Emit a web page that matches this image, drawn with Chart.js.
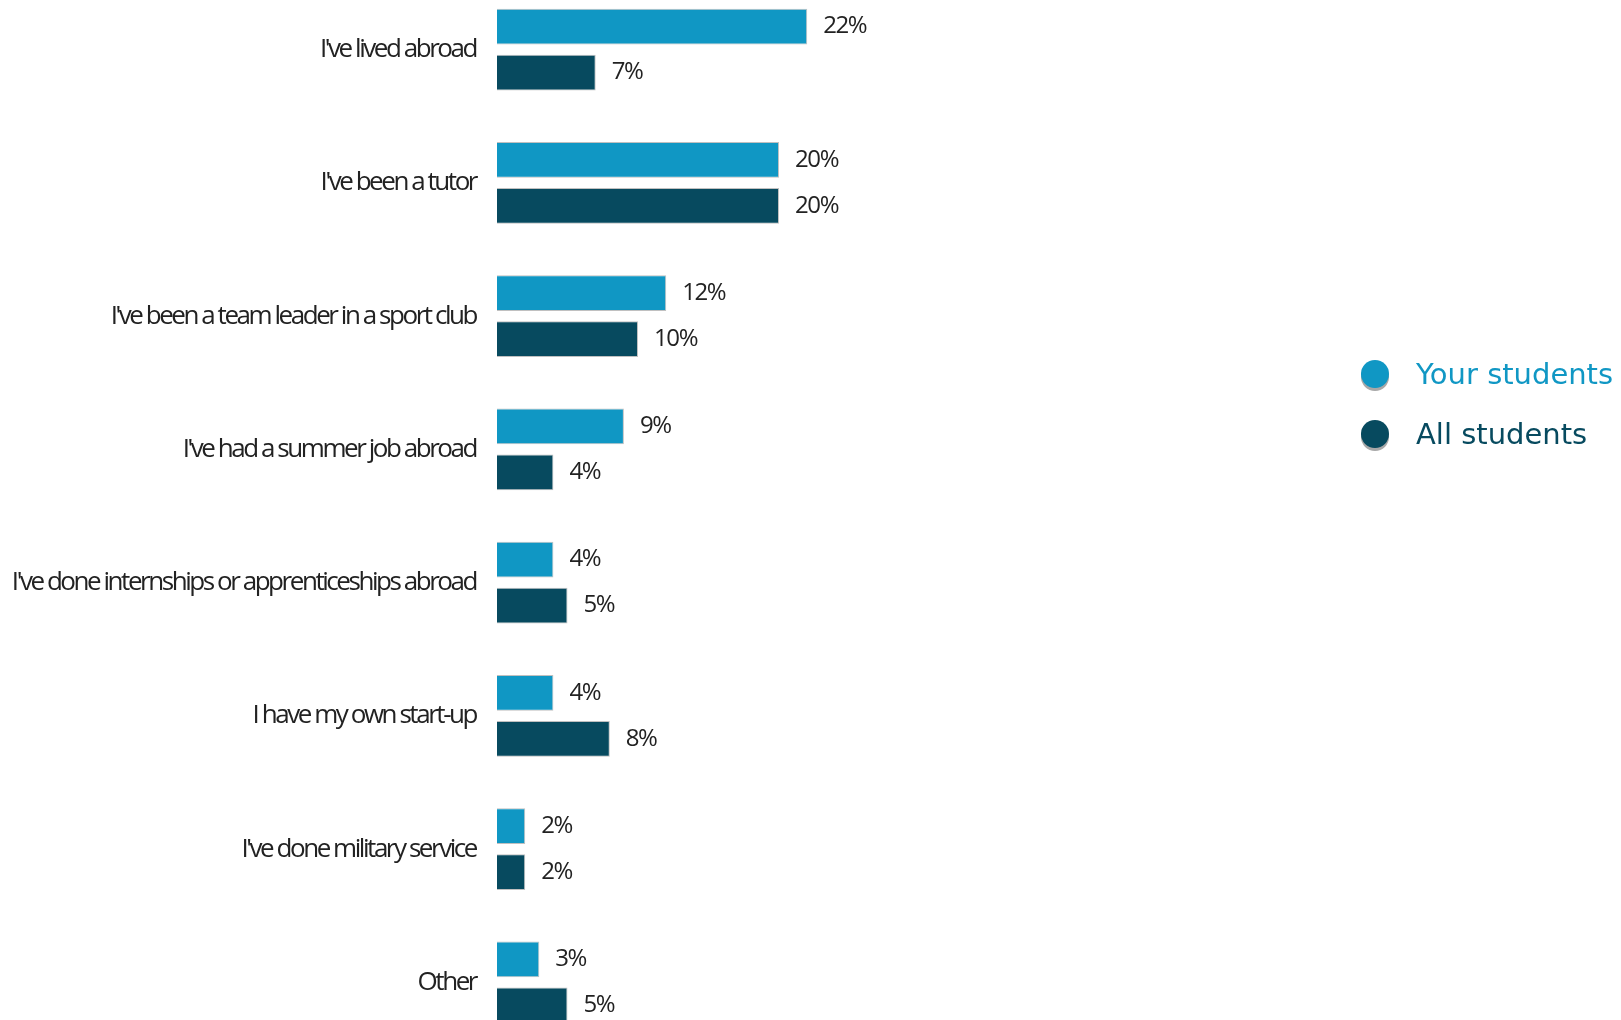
<!DOCTYPE html>
<html lang="en">
<head>
    <meta charset="UTF-8">
    <title>Student experience</title>
    <script src="https://cdn.jsdelivr.net/npm/chart.js"></script>
    <style>
        body {
            margin: 0;
            background: #ffffff;
            overflow: hidden;
        }
        #experienceChart {
            position: absolute;
            left: 0;
            top: -17px;
        }
    </style>
</head>
<body>
    <canvas id="experienceChart" width="1621" height="1066"></canvas>

    <script>
        const categories = [
            "I've lived abroad",
            "I've been a tutor",
            "I've been a team leader in a sport club",
            "I've had a summer job abroad",
            "I've done internships or apprenticeships abroad",
            "I have my own start-up",
            "I've done military service",
            "Other"
        ];
        const yourStudents = [22, 20, 12, 9, 4, 4, 2, 3];
        const allStudents = [7, 20, 10, 4, 5, 8, 2, 5];
        const seriesNames = ["Your students", "All students"];
        const seriesColors = ["#1097c4", "#074a5f"];

        // value labels just past the end of each bar
        const valueLabels = {
            id: "valueLabels",
            afterDatasetsDraw(chart) {
                const ctx = chart.ctx;
                ctx.save();
                ctx.font = "24px 'Open Sans'";
                ctx.letterSpacing = "-1.4px";
                ctx.fillStyle = "#222";
                ctx.textAlign = "left";
                ctx.textBaseline = "middle";
                chart.data.datasets.forEach((ds, i) => {
                    chart.getDatasetMeta(i).data.forEach((bar, j) => {
                        ctx.fillText(ds.data[j] + "%", bar.x + 16, bar.y);
                    });
                });
                ctx.restore();
            }
        };

        // round markers with a soft grey drop under them
        const sideLegend = {
            id: "sideLegend",
            afterDraw(chart) {
                const ctx = chart.ctx;
                ctx.save();
                ctx.letterSpacing = "0px";
                ctx.font = "29px 'DejaVu Sans'";
                ctx.textBaseline = "middle";
                ctx.textAlign = "left";
                chart.data.datasets.forEach((ds, i) => {
                    const y = 391 + i * 60;
                    ctx.fillStyle = "#a8a8a8";
                    ctx.beginPath();
                    ctx.arc(1375, y + 3, 14, 0, Math.PI * 2);
                    ctx.fill();
                    ctx.fillStyle = ds.backgroundColor;
                    ctx.beginPath();
                    ctx.arc(1375, y, 14, 0, Math.PI * 2);
                    ctx.fill();
                    ctx.fillText(ds.label, 1416, y + 2);
                });
                ctx.restore();
            }
        };

        // tighter letters for the category names
        const tightText = {
            id: "tightText",
            beforeDraw(chart) { chart.ctx.letterSpacing = "-2.45px"; },
            afterDraw(chart) { chart.ctx.letterSpacing = "0px"; }
        };

        new Chart(document.getElementById("experienceChart"), {
            type: "bar",
            data: {
                labels: categories,
                datasets: [
                    { label: seriesNames[0], data: yourStudents, backgroundColor: seriesColors[0] },
                    { label: seriesNames[1], data: allStudents, backgroundColor: seriesColors[1] }
                ]
            },
            options: {
                indexAxis: "y",
                responsive: false,
                animation: false,
                layout: { padding: { right: 278 } },
                datasets: {
                    bar: {
                        categoryPercentage: 0.69,
                        barPercentage: 0.78,
                        borderWidth: 1,
                        borderColor: "rgba(140,140,140,0.55)"
                    }
                },
                plugins: {
                    legend: { display: false },
                    tooltip: { enabled: false }
                },
                scales: {
                    x: { display: false, min: 0, max: 60 },
                    y: {
                        grid: { display: false },
                        border: { display: false },
                        ticks: {
                            padding: 13,
                            color: "#222",
                            font: { family: "'Open Sans'", size: 26 }
                        },
                        afterFit(scale) {
                            scale.width = 497;
                            // let the bands use the full canvas height
                            scale.paddingTop = 0;
                            scale.paddingBottom = 0;
                        }
                    }
                }
            },
            plugins: [tightText, valueLabels, sideLegend]
        });
    </script>
</body>
</html>
